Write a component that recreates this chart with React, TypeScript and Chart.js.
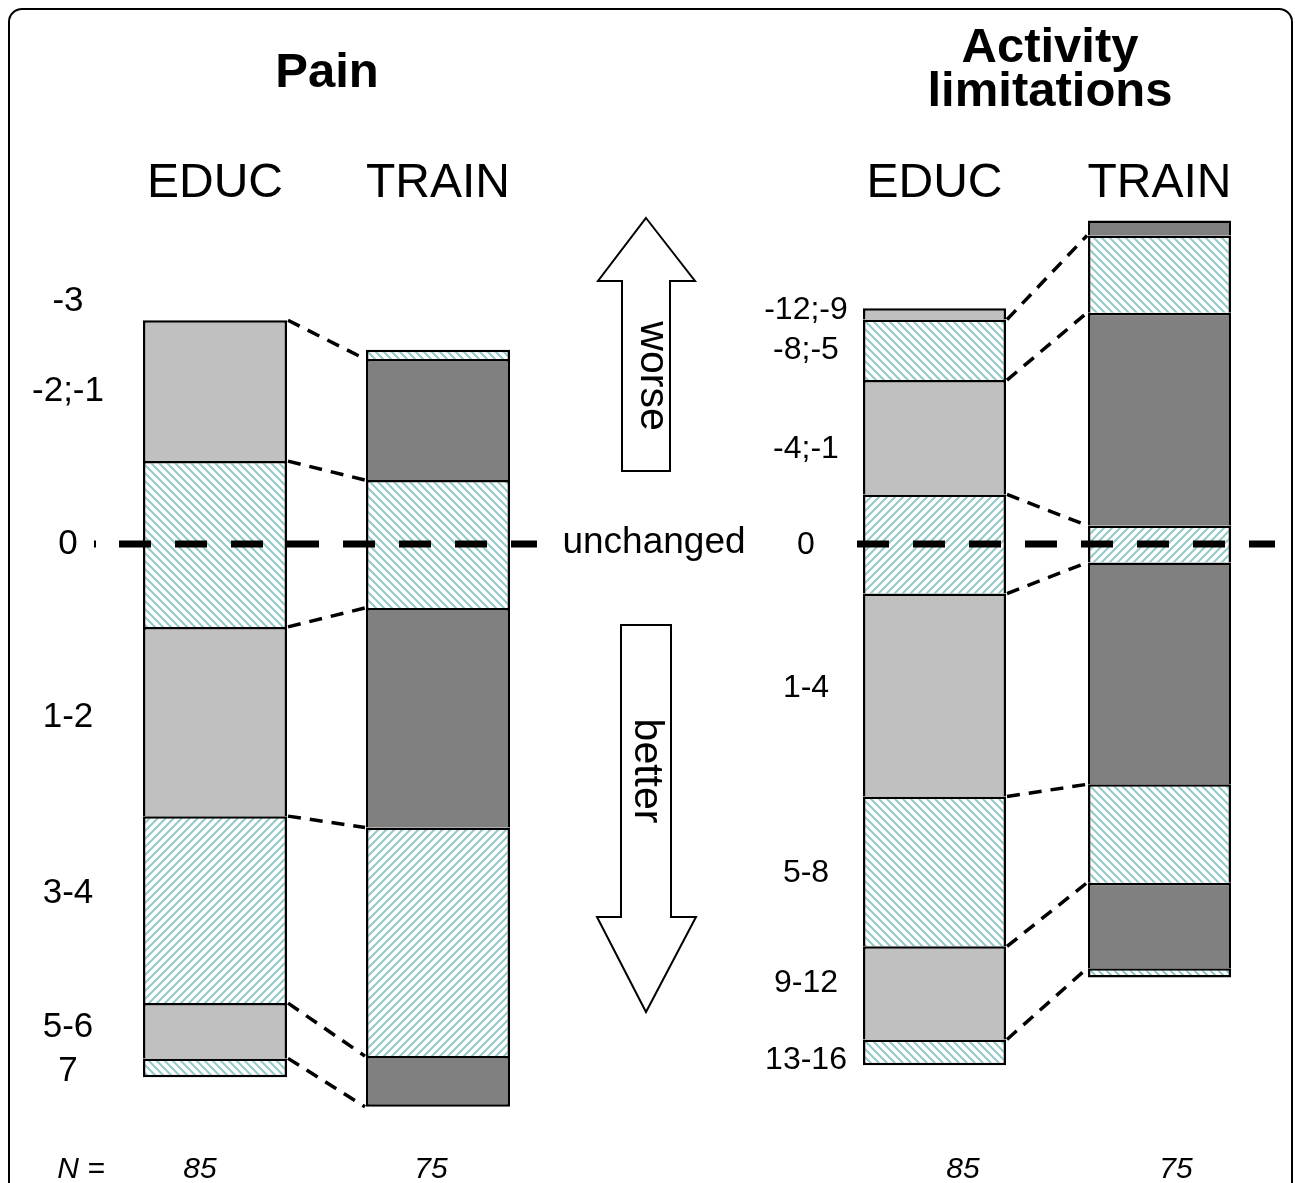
import React, { useEffect, useRef } from "react";
import { Chart, registerables } from "chart.js";

Chart.register(...registerables);

const FONT = '"Liberation Sans", Arial, Helvetica, sans-serif';
const HATCH = "#93c8c8";
const LIGHT = "#c0c0c0";
const DARK = "#808080";

// ---------- data ----------
const groups = ["EDUC", "TRAIN"];
const groupN = [85, 75];

// Pain: change categories, % of each group
const painCategories = ["-3", "-2;-1", "0", "1-2", "3-4", "5-6", "7"];
const painEduc = [0, 18.6, 21.9, 25.0, 24.7, 7.3, 2.5];
const painTrain = [1.2, 16.0, 16.9, 29.0, 30.2, 6.7, 0];
const painFill = ["back", "solid", "back", "solid", "fwd", "solid", "back"];
// vertical position of each category label, in % units relative to "unchanged"
const painLabelPos = [-32.1, -20.2, 0, 22.9, 46.1, 63.8, 69.7];

// Activity limitations
const actCategories = ["-12;-9", "-8;-5", "-4;-1", "0", "1-4", "5-8", "9-12", "13-16"];
const actEduc = [1.5, 8.0, 15.1, 13.1, 26.8, 19.8, 12.3, 3.4];
const actTrain = [2.0, 10.2, 28.1, 4.9, 29.3, 13.0, 11.3, 1.2];
const actFill = ["solid", "back", "solid", "fwd", "solid", "back", "solid", "back"];
const actLabelPos = [-30.9, -25.6, -12.5, 0.2, 19.1, 43.5, 58.0, 68.2];

type FillKind = "solid" | "back" | "fwd";

function floating(values: number[], zeroIdx: number): [number, number][] {
  let off = 0;
  for (let i = 0; i < zeroIdx; i++) off += values[i];
  off += values[zeroIdx] / 2;
  const out: [number, number][] = [];
  let cum = 0;
  for (const v of values) {
    out.push([cum - off, cum + v - off]);
    cum += v;
  }
  return out;
}

function makePattern(kind: "back" | "fwd"): CanvasPattern {
  const s = 8;
  const c = document.createElement("canvas");
  c.width = s;
  c.height = s;
  const g = c.getContext("2d")!;
  g.fillStyle = "#ffffff";
  g.fillRect(0, 0, s, s);
  g.strokeStyle = HATCH;
  g.lineWidth = 2;
  g.beginPath();
  for (let k = -1; k <= 1; k++) {
    if (kind === "back") {
      g.moveTo(k * s - 1, -1);
      g.lineTo(k * s + s + 1, s + 1);
    } else {
      g.moveTo(k * s - 1, s + 1);
      g.lineTo(k * s + s + 1, -1);
    }
  }
  g.stroke();
  return g.createPattern(c, "repeat")!;
}

interface PanelCfg {
  categories: string[];
  series: number[][];
  fill: string[];
  labelPos: number[];
  solid: string[];
  barWidth: number;
  pad: { left: number; right: number; top: number; bottom: number };
  labelX: number;
  labelFont: string;
  zeroExt: [number, number];
  nOffset: number[];
  title: string[];
  titleX: number;
  titleBaselines: number[];
  extras?: (ctx: CanvasRenderingContext2D, zeroY: number) => void;
}

const PAD_TOP = 544 - 45 * 7.57;
const PAD_BOTTOM = 1183 - PAD_TOP - 125 * 7.57;
const BORDER = 2.5;

function drawPainExtras(ctx: CanvasRenderingContext2D, zeroY: number) {
  ctx.save();
  ctx.setLineDash([]);
  ctx.lineWidth = 2;
  ctx.strokeStyle = "#000";
  ctx.fillStyle = "#fff";
  ctx.lineJoin = "miter";
  const up = [[646, 218], [695, 281], [670, 281], [670, 471], [622, 471], [622, 281], [598, 281]];
  const down = [[621, 625], [671, 625], [671, 917], [696, 917], [646, 1012], [597, 917], [621, 917]];
  for (const pts of [up, down]) {
    ctx.beginPath();
    pts.forEach(([x, y], i) => (i ? ctx.lineTo(x, y) : ctx.moveTo(x, y)));
    ctx.closePath();
    ctx.fill();
    ctx.stroke();
  }
  ctx.fillStyle = "#000";
  ctx.font = `41px ${FONT}`;
  ctx.textAlign = "center";
  ctx.textBaseline = "middle";
  const rotated: [string, number, number][] = [["worse", 652, 376], ["better", 646, 771]];
  for (const [t, x, y] of rotated) {
    ctx.save();
    ctx.translate(x, y);
    ctx.rotate(Math.PI / 2);
    ctx.fillText(t, 0, 0);
    ctx.restore();
  }
  ctx.font = `37px ${FONT}`;
  ctx.textBaseline = "alphabetic";
  ctx.fillText("unchanged", 654, 553);
  ctx.font = `italic 30px ${FONT}`;
  ctx.fillText("N =", 81, 1178);
  // small tick beside the "0" label
  ctx.fillRect(94, zeroY - 3.5, 2, 7);
  ctx.restore();
}

const painCfg: PanelCfg = {
  categories: painCategories,
  series: [painEduc, painTrain],
  fill: painFill,
  labelPos: painLabelPos,
  solid: [LIGHT, DARK],
  barWidth: 144,
  pad: { left: 103.5, right: 210.5, top: PAD_TOP, bottom: PAD_BOTTOM },
  labelX: 68,
  labelFont: `35px ${FONT}`,
  zeroExt: [24, 27],
  nOffset: [-15, -7],
  title: ["Pain"],
  titleX: 327,
  titleBaselines: [87],
  extras: drawPainExtras,
};

const actCfg: PanelCfg = {
  categories: actCategories,
  series: [actEduc, actTrain],
  fill: actFill,
  labelPos: actLabelPos,
  solid: [LIGHT, DARK],
  barWidth: 143,
  pad: { left: 62, right: 23, top: PAD_TOP, bottom: PAD_BOTTOM },
  labelX: 46,
  labelFont: `32px ${FONT}`,
  zeroExt: [6, 44],
  nOffset: [28.5, 16.5],
  title: ["Activity", "limitations"],
  titleX: 290,
  titleBaselines: [62, 106],
};

function makePanel(canvas: HTMLCanvasElement, cfg: PanelCfg, patterns: Record<string, CanvasPattern>) {
  const zeroIdx = cfg.categories.indexOf("0");
  const ranges = cfg.series.map((v) => floating(v, zeroIdx));
  const datasets = cfg.categories.map((cat, k) => ({
    label: cat,
    data: ranges.map((r) => r[k]),
    backgroundColor: cfg.series.map((_, g) =>
      (cfg.fill[k] as FillKind) === "solid" ? cfg.solid[g] : patterns[cfg.fill[k]]
    ),
    borderColor: "#000000",
    borderSkipped: false,
    borderWidth: (c: any) => {
      const last = !cfg.series[c.dataIndex].slice(k + 1).some((v) => v > 0);
      return { top: BORDER, left: BORDER, right: BORDER, bottom: last ? BORDER : 0 };
    },
    inflateAmount: 0,
    barThickness: cfg.barWidth,
    grouped: false,
  }));

  const plugin = {
    id: "panelDecor",
    afterDatasetsDraw(chart: any) {
      const ctx: CanvasRenderingContext2D = chart.ctx;
      const y = chart.scales.y;
      const bars = chart.getDatasetMeta(0).data as any[];
      const eRight = bars[0].x + bars[0].width / 2;
      const eLeft = bars[0].x - bars[0].width / 2;
      const tLeft = bars[1].x - bars[1].width / 2;
      const tRight = bars[1].x + bars[1].width / 2;
      const zeroY = y.getPixelForValue(0);
      ctx.save();
      // connectors between category boundaries
      ctx.strokeStyle = "#000";
      ctx.lineWidth = 3.5;
      ctx.setLineDash([13, 9]);
      ctx.lineCap = "butt";
      for (let k = 1; k < cfg.categories.length; k++) {
        const yE = y.getPixelForValue(ranges[0][k][0]);
        const yT = y.getPixelForValue(ranges[1][k][0]);
        ctx.beginPath();
        ctx.moveTo(eRight + 1, yE);
        ctx.lineTo(tLeft - 1, yT);
        ctx.stroke();
      }
      // "unchanged" line
      ctx.lineWidth = 7;
      ctx.setLineDash([32, 24]);
      ctx.beginPath();
      ctx.moveTo(eLeft - cfg.zeroExt[0], zeroY);
      ctx.lineTo(tRight + cfg.zeroExt[1], zeroY);
      ctx.stroke();
      ctx.setLineDash([]);
      // category labels
      ctx.fillStyle = "#000";
      ctx.font = cfg.labelFont;
      ctx.textAlign = "center";
      ctx.textBaseline = "middle";
      cfg.categories.forEach((cat, k) => {
        ctx.fillText(cat, cfg.labelX, y.getPixelForValue(cfg.labelPos[k]));
      });
      // group headers & N
      ctx.textBaseline = "alphabetic";
      groups.forEach((g, i) => {
        ctx.font = `48px ${FONT}`;
        ctx.fillText(g, bars[i].x, 197);
        ctx.font = `italic 30px ${FONT}`;
        ctx.fillText(String(groupN[i]), bars[i].x + cfg.nOffset[i], 1178);
      });
      // title
      ctx.font = `bold 49px ${FONT}`;
      cfg.title.forEach((t, i) => ctx.fillText(t, cfg.titleX, cfg.titleBaselines[i]));
      ctx.restore();
      if (cfg.extras) cfg.extras(ctx, zeroY);
    },
  };

  return new Chart(canvas, {
    type: "bar",
    data: { labels: groups, datasets: datasets as any },
    options: {
      responsive: false,
      maintainAspectRatio: false,
      animation: false,
      events: [],
      layout: { padding: cfg.pad },
      plugins: { legend: { display: false }, tooltip: { enabled: false }, title: { display: false } },
      scales: {
        x: { type: "category", offset: true, display: false, grid: { display: false } },
        y: { type: "linear", min: -45, max: 80, reverse: true, display: false, grid: { display: false } },
      },
    },
    plugins: [plugin],
  });
}

export default function App() {
  const painRef = useRef<HTMLCanvasElement>(null);
  const actRef = useRef<HTMLCanvasElement>(null);
  useEffect(() => {
    const patterns = { back: makePattern("back"), fwd: makePattern("fwd") };
    const c1 = makePanel(painRef.current!, painCfg, patterns);
    const c2 = makePanel(actRef.current!, actCfg, patterns);
    return () => {
      c1.destroy();
      c2.destroy();
    };
  }, []);
  return (
    <div
      style={{
        position: "fixed",
        left: 0,
        top: 0,
        width: 1295,
        height: 1183,
        overflow: "hidden",
        background: "#ffffff",
      }}
    >
      <div
        style={{
          position: "absolute",
          left: 8,
          top: 8,
          width: 1285,
          height: 1300,
          border: "2px solid #000",
          borderRadius: 14,
          boxSizing: "border-box",
        }}
      />
      <canvas ref={painRef} width={760} height={1183} style={{ position: "absolute", left: 0, top: 0 }} />
      <canvas ref={actRef} width={535} height={1183} style={{ position: "absolute", left: 760, top: 0 }} />
    </div>
  );
}
